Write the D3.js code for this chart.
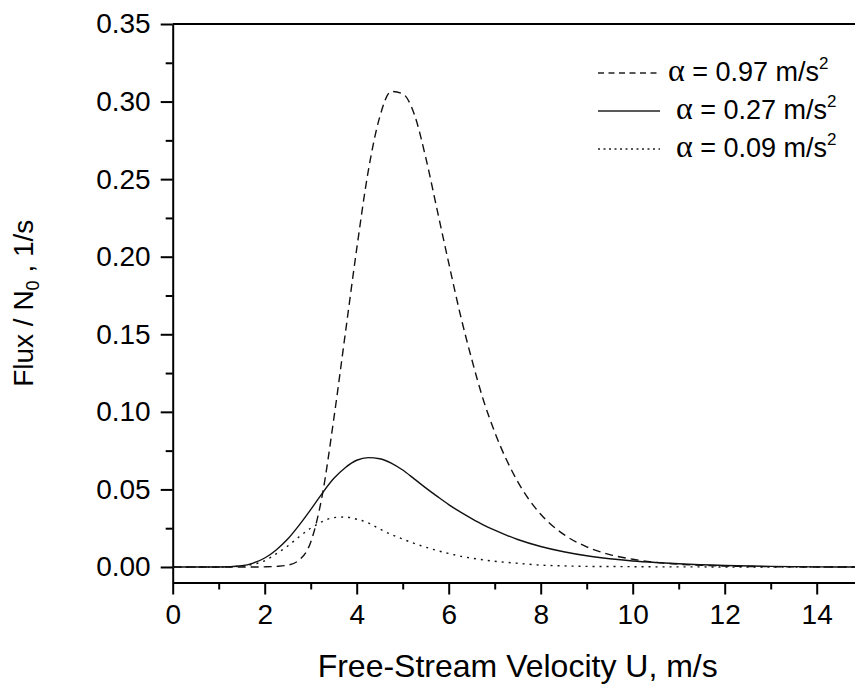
<!DOCTYPE html>
<html>
<head>
<meta charset="utf-8">
<script src="https://cdn.jsdelivr.net/npm/d3@7"></script>
<style>
  body { margin: 0; background: #fff; }
  svg text { font-family: "Liberation Sans", Arial, sans-serif; fill: #000; }
</style>
</head>
<body>
<svg id="chart" width="855" height="684"></svg>
<script>
// free-stream velocity U (m/s), shared by the three curves
var velocity = [0, 0.5, 1, 1.5, 1.75, 2, 2.25, 2.5, 2.75, 3, 3.25, 3.5, 3.75, 4, 4.25, 4.5, 4.75, 5, 5.25, 5.5,
    5.75, 6, 6.25, 6.5, 6.75, 7, 7.5, 8, 8.5, 9, 9.5, 10, 10.5, 11, 12, 13, 14, 15];

// Flux / N0 for each acceleration
var flux097 = [0, 0, 0, 0, 0, 0.0001, 0.0004, 0.0012, 0.0045, 0.016, 0.046, 0.095, 0.150, 0.205, 0.255, 0.290,
    0.3065, 0.305, 0.292, 0.264, 0.230, 0.196, 0.163, 0.134, 0.108, 0.087, 0.055, 0.034, 0.021, 0.013, 0.008,
    0.005, 0.003, 0.0018, 0.0006, 0.0002, 0, 0];
var flux027 = [0, 0, 0, 0.0008, 0.0025, 0.0058, 0.011, 0.018, 0.027, 0.037, 0.0475, 0.057, 0.064, 0.0688, 0.0705,
    0.0698, 0.067, 0.0625, 0.0568, 0.051, 0.0455, 0.0402, 0.0355, 0.0312, 0.0272, 0.0237, 0.0177, 0.0132, 0.0098,
    0.0072, 0.0053, 0.0039, 0.0029, 0.0021, 0.001, 0.0004, 0.0001, 0];
var flux009 = [0, 0, 0, 0.0006, 0.0018, 0.004, 0.0085, 0.0135, 0.0195, 0.025, 0.0292, 0.0318, 0.0322, 0.0308,
    0.0285, 0.0245, 0.021, 0.018, 0.0152, 0.0128, 0.0106, 0.0087, 0.007, 0.0057, 0.0046, 0.0037, 0.0024, 0.0012,
    0.0007, 0.0004, 0.0003, 0.0002, 0.0001, 0.0001, 0, 0, 0, 0];

var seriesNames = ['0.97', '0.27', '0.09'];

var xMajorTicks = [0, 2, 4, 6, 8, 10, 12, 14];
var xMinorTicks = [1, 3, 5, 7, 9, 11, 13, 15];
var yMajorTicks = [0, 0.05, 0.10, 0.15, 0.20, 0.25, 0.30, 0.35];
var yMinorTicks = [0.025, 0.075, 0.125, 0.175, 0.225, 0.275, 0.325];

var svg = d3.select('#chart');

// the original plot runs to 15 m/s, the picture is cropped a bit before that
var x = d3.scaleLinear().domain([0, 15]).range([172.7, 862.7]);
var y = d3.scaleLinear().domain([-0.01, 0.35]).range([582.5, 24]);

var series = [
  {name: seriesNames[0], values: flux097, dash: '8,5', legendDash: '6,4.5'},
  {name: seriesNames[1], values: flux027, dash: null, legendDash: null},
  {name: seriesNames[2], values: flux009, dash: '2,5', legendDash: '2,3.5'}
];

// axes
var xAxis = svg.append('g').attr('transform', 'translate(0,' + y.range()[0] + ')')
    .call(d3.axisBottom(x).tickValues(xMajorTicks).tickSize(12).tickSizeOuter(0).tickPadding(10)
      .tickFormat(d3.format('d')));
svg.append('g').attr('transform', 'translate(0,' + y.range()[0] + ')')
    .call(d3.axisBottom(x).tickValues(xMinorTicks).tickSize(7).tickSizeOuter(0).tickFormat(''))
    .select('.domain').remove();

var yAxis = svg.append('g').attr('transform', 'translate(' + x(0) + ',0)')
    .call(d3.axisLeft(y).tickValues(yMajorTicks).tickSize(12).tickSizeOuter(0).tickPadding(10)
      .tickFormat(d3.format('.2f')));
svg.append('g').attr('transform', 'translate(' + x(0) + ',0)')
    .call(d3.axisLeft(y).tickValues(yMinorTicks).tickSize(7).tickSizeOuter(0).tickFormat(''))
    .select('.domain').remove();

svg.selectAll('.domain, .tick line').attr('stroke', '#000').attr('stroke-width', 2);
xAxis.selectAll('text').style('font-size', '28px');
yAxis.selectAll('text').style('font-size', '28px');

// top frame
svg.append('line')
    .attr('x1', x(0)).attr('x2', x(15))
    .attr('y1', y(0.35)).attr('y2', y(0.35))
    .attr('stroke', '#000').attr('stroke-width', 2);

// curves
var line = d3.line()
    .x((d, i) => x(velocity[i]))
    .y(d => y(d))
    .curve(d3.curveMonotoneX);

svg.selectAll('path.curve')
  .data(series)
  .enter()
  .append('path')
    .attr('class', 'curve')
    .attr('d', d => line(d.values))
    .attr('fill', 'none')
    .attr('stroke', '#111')
    .attr('stroke-width', 1.4)
    .attr('stroke-dasharray', d => d.dash);

// axis titles
svg.append('text')
    .attr('x', x(7.5)).attr('y', 677)
    .attr('text-anchor', 'middle')
    .style('font-size', '32px')
    .text('Free-Stream Velocity U, m/s');

var yTitle = svg.append('text')
    .attr('transform', 'translate(33,' + y(0.17) + ') rotate(-90)')
    .attr('text-anchor', 'middle')
    .style('font-size', '28px');
yTitle.append('tspan').text('Flux / N');
yTitle.append('tspan').attr('dy', 6).style('font-size', '18px').text('0');
yTitle.append('tspan').attr('dy', -6).text(' , 1/s');

// legend
var legendY = [73, 111, 149];
var legend = svg.selectAll('g.legend')
  .data(series)
  .enter()
  .append('g')
    .attr('class', 'legend')
    .attr('transform', (d, i) => 'translate(0,' + legendY[i] + ')');

legend.append('line')
    .attr('x1', 598).attr('x2', 660)
    .attr('stroke', '#222').attr('stroke-width', 1.3)
    .attr('stroke-dasharray', d => d.legendDash);

var label = legend.append('text')
    .attr('x', (d, i) => i === 0 ? 668 : 676)
    .attr('y', 8)
    .style('font-size', '27px');
label.append('tspan').style('font-family', '"Liberation Serif", serif').style('font-size', '32px').text('\u03b1');
label.append('tspan').text(d => ' = ' + d.name + ' m/s');
label.append('tspan').attr('dy', -12).style('font-size', '17px').text('2');
</script>
</body>
</html>
